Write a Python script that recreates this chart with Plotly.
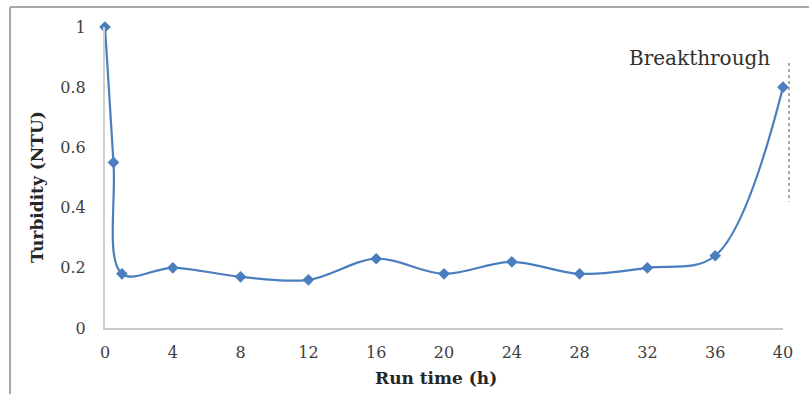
import plotly.graph_objects as go

run_time = [0, 0.5, 1, 4, 8, 12, 16, 20, 24, 28, 32, 36, 40]
turbidity = [1.0, 0.55, 0.18, 0.20, 0.17, 0.16, 0.23, 0.18, 0.22, 0.18, 0.20, 0.24, 0.80]
x_ticks = [0, 4, 8, 12, 16, 20, 24, 28, 32, 36, 40]
y_ticks = [0, 0.2, 0.4, 0.6, 0.8, 1]
y_tick_text = ["0", "0.2", "0.4", "0.6", "0.8", "1"]
breakthrough_top = 0.88
breakthrough_bottom = 0.42

blue = "#4a7ebf"
font_family = "DejaVu Serif"

# plot area in pixels (for placing the outer frame / titles)
L, R, T, B = 105, 783, 27, 328
W, H = R - L, B - T

fig = go.Figure()
fig.add_trace(go.Scatter(
    x=run_time, y=turbidity, mode="lines+markers",
    line=dict(color=blue, width=2.2, shape="spline", smoothing=1.0),
    marker=dict(symbol="diamond", size=9, color=blue),
    cliponaxis=False, showlegend=False,
))

fig.update_layout(
    width=809, height=394,
    margin=dict(l=L, r=809 - R, t=T, b=394 - B),
    paper_bgcolor="white", plot_bgcolor="white",
    font=dict(family=font_family, size=16, color="#404040"),
    xaxis=dict(range=[0, 40], tickvals=x_ticks, showgrid=False, zeroline=False,
               showline=True, linecolor="#c8c8c8", linewidth=2,
               ticks="outside", ticklen=9, tickcolor="rgba(0,0,0,0)",
               tickfont=dict(family=font_family, size=16, color="#404040")),
    yaxis=dict(range=[0, 1], tickvals=y_ticks, ticktext=y_tick_text, showgrid=False, zeroline=False,
               showline=True, linecolor="#d0d0d0", linewidth=2,
               ticks="outside", ticklen=14, tickcolor="rgba(0,0,0,0)",
               tickfont=dict(family=font_family, size=16, color="#404040")),
    annotations=[
        dict(text="Breakthrough", x=(699 - L) / W, y=(B - 58) / H,
             xref="paper", yref="paper", showarrow=False, xanchor="center", yanchor="middle",
             font=dict(family=font_family, size=20, color="#303030")),
        dict(text="<b>Run time (h)</b>", x=(436 - L) / W, y=-(378 - B) / H,
             xref="paper", yref="paper", showarrow=False, xanchor="center", yanchor="middle",
             font=dict(family=font_family, size=17, color="#262626")),
        dict(text="<b>Turbidity (NTU)</b>", x=(37 - L) / W, y=(B - 187) / H,
             xref="paper", yref="paper", showarrow=False, textangle=-90,
             xanchor="center", yanchor="middle",
             font=dict(family=font_family, size=17, color="#262626")),
    ],
    shapes=[
        dict(type="line", xref="paper", yref="paper", x0=(789 - L) / W, x1=(789 - L) / W,
             y0=breakthrough_top, y1=breakthrough_bottom,
             line=dict(color="#8c8c8c", width=1.5, dash="dot")),
        dict(type="line", xref="paper", yref="paper", x0=(10 - L) / W, x1=(10 - L) / W,
             y0=1 + (T - 7) / H, y1=-0.3, line=dict(color="#a8a8a8", width=2)),
        dict(type="line", xref="paper", yref="paper", x0=(10 - L) / W, x1=1.1,
             y0=1 + (T - 7) / H, y1=1 + (T - 7) / H, line=dict(color="#a8a8a8", width=2)),
    ],
)

fig.write_html("out.html")
